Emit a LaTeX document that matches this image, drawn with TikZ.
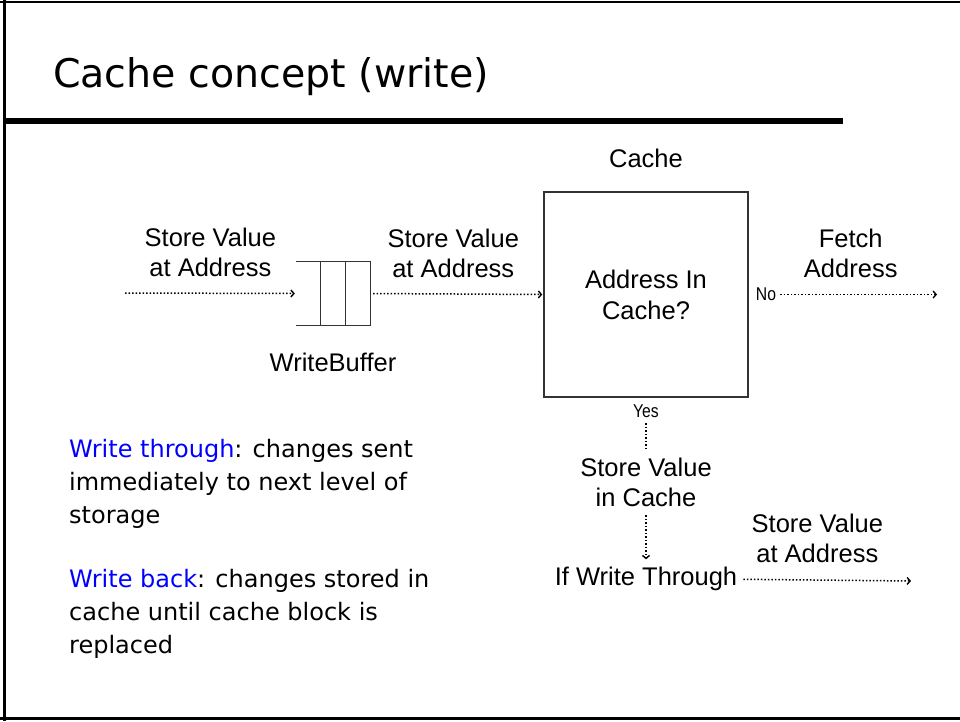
\documentclass[tikz,border=0pt]{standalone}
\usepackage{fontspec}
\setmainfont{Liberation Sans}
\newfontfamily\slidefont{DejaVu Sans}
\newfontfamily\narrowfont[FakeStretch=0.85]{Liberation Sans}
\usetikzlibrary{arrows.meta,positioning,calc}
\definecolor{termblue}{RGB}{0,0,255}
\definecolor{boxgray}{RGB}{51,51,51}

\tikzset{
	flowtext/.style={font=\fontsize{25.5}{30}\selectfont, align=center},
	smalltext/.style={font=\narrowfont\fontsize{18.5}{20}\selectfont, inner sep=1pt},
	flow/.style={dotted, line width=1.5pt,
		-{Straight Barb[length=3pt,width=7pt,line width=1.4pt]}},
	flowline/.style={dotted, line width=1.5pt},
	buffer line/.style={draw=boxgray, line width=1.3pt},
	bodytext/.style={font=\slidefont\fontsize{24}{33}\selectfont,
		anchor=base west, inner sep=0, align=left}
}

\begin{document}
\begin{tikzpicture}[x=1pt,y=-1pt]
	\useasboundingbox (0,0) rectangle (960,721);
	% slide frame and title
	\draw[line width=2.3pt] (0,2) -- (960,2);
	\draw[line width=2.3pt] (0,718.5) -- (960,718.5);
	\draw[line width=3pt] (4.5,0) -- (4.5,721);
	\draw[line width=5.5pt] (6,121) -- (843,121);
	\node[anchor=base west, inner sep=0,
		font=\slidefont\fontsize{39.5}{47}\selectfont] (title) at (53,87)
		{Cache concept (write)};

	% cache and write buffer
	\node[draw=boxgray, line width=1.5pt, minimum width=204pt,
		minimum height=205pt, flowtext, font=\fontsize{25.5}{31}\selectfont]
		(cache) at (646,294.5) {Address In\\Cache?};
	\node[flowtext, above=20pt of cache] (cachename) {Cache};
	\node[minimum width=74pt, minimum height=63pt, inner sep=0] (buf) at (333,293.5) {};
	\draw[buffer line] (buf.north west) -- (buf.north east)
		-- (buf.south east) -- (buf.south west);
	\foreach \cell in {1,2}
		\draw[buffer line] ($(buf.north west)!\cell/3!(buf.north east)$)
			-- ($(buf.south west)!\cell/3!(buf.south east)$);
	\node[flowtext, below=24pt of buf] (bufname) {WriteBuffer};

	% store path
	\coordinate (src) at (125,293);
	\draw[flow, shorten >=1pt] (src) -- (buf.west)
		node[midway, above=12.5pt, flowtext] (storein) {Store Value\\at Address};
	\draw[flow, shorten <=3pt, shorten >=1pt] (buf.east) -- (cache.west)
		node[pos=0.48, above=12.5pt, flowtext] (storeout) {Store Value\\at Address};

	% miss
	\node[smalltext, right=6pt of cache] (no) {No};
	\coordinate (fetchend) at (937,294.5);
	\draw[flow, shorten <=3pt] (no.east) -- (fetchend)
		node[pos=0.46, above=13pt, flowtext] (fetch) {Fetch\\Address};

	% hit
	\node[smalltext, below=6pt of cache] (yes) {Yes};
	\node[flowtext, below=35pt of yes] (storecache) {Store Value\\in Cache};
	\node[flowtext, below=54pt of storecache] (ifwt) {If Write Through};
	\draw[flowline, shorten <=4pt, shorten >=6pt] (yes) -- (storecache);
	\draw[flow, shorten <=5.5pt, shorten >=4.5pt] (storecache) -- (ifwt);
	\coordinate (wtend) at (911,581);
	\draw[flow, shorten <=2.7pt] (ifwt.east) -- (wtend)
		node[pos=0.45, above=13.5pt, flowtext] (storenext) {Store Value\\at Address};

	% notes
	\node[bodytext] (wthru) at (69,523)
		{\textcolor{termblue}{Write through}: changes sent\\
		immediately to next level of\\storage};
	\node[bodytext] (wback) at (69,653)
		{\textcolor{termblue}{Write back}: changes stored in\\
		cache until cache block is\\replaced};
\end{tikzpicture}
\end{document}
